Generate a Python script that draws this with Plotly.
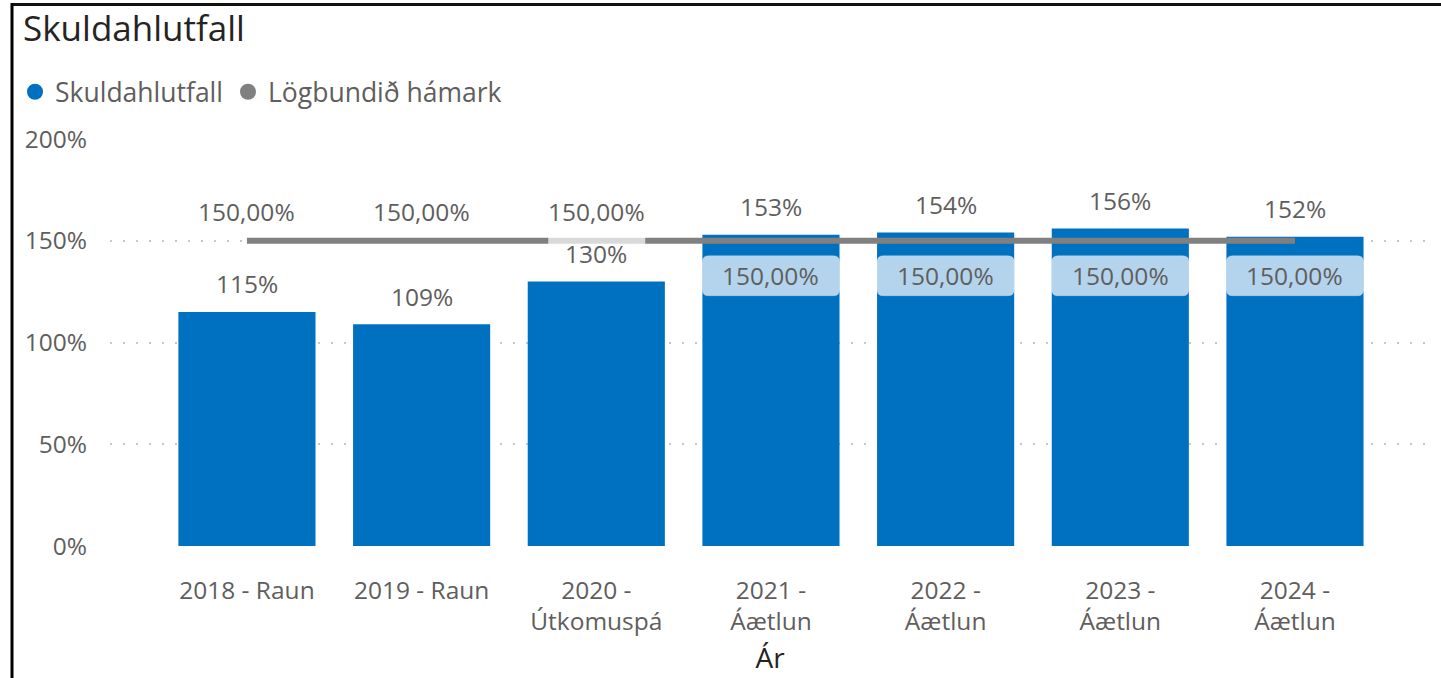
import plotly.graph_objects as go

# ---- data ----
categories = ["2018 - Raun", "2019 - Raun", "2020 -<br>Útkomuspá", "2021 -<br>Áætlun",
              "2022 -<br>Áætlun", "2023 -<br>Áætlun", "2024 -<br>Áætlun"]
skuldahlutfall = [115, 109, 130, 153, 154, 156, 152]
hamark = [150, 150, 150, 150, 150, 150, 150]
y_ticks = [0, 50, 100, 150, 200]
y_tick_labels = ["0%", "50%", "100%", "150%", "200%"]

BAR_COLOR = "#0070C0"
LINE_COLOR = "#808080"
TEXT_COLOR = "#605E5C"
FONT = "Segoe UI, Open Sans, sans-serif"

W, H = 1441, 678
L, R, T, B = 110, 11, 139, 132
plot_w = W - L - R
plot_h = H - T - B
X_MIN, X_MAX = -0.784, 6.773
Y_MIN, Y_MAX = 0, 200
px_per_x = plot_w / (X_MAX - X_MIN)
px_per_y = plot_h / (Y_MAX - Y_MIN)

idx = list(range(len(categories)))
BAR_W = 0.785

fig = go.Figure()
fig.add_trace(go.Bar(x=idx, y=skuldahlutfall, width=BAR_W, marker=dict(color=BAR_COLOR, line=dict(width=0)),
                     name="Skuldahlutfall", showlegend=False, hoverinfo="skip"))
fig.add_trace(go.Scatter(x=idx, y=hamark, mode="lines", line=dict(color=LINE_COLOR, width=6),
                         name="Lögbundið hámark", showlegend=False, hoverinfo="skip"))
# legend entries with circle markers
fig.add_trace(go.Scatter(x=[None], y=[None], mode="markers", name="Skuldahlutfall",
                         marker=dict(symbol="circle", size=17, color=BAR_COLOR)))
fig.add_trace(go.Scatter(x=[None], y=[None], mode="markers", name="Lögbundið hámark",
                         marker=dict(symbol="circle", size=17, color=LINE_COLOR)))


def rounded_rect_path(x0, x1, y0, y1, r_px):
    rx = r_px / px_per_x
    ry = r_px / px_per_y
    return (f"M {x0 + rx},{y0} L {x1 - rx},{y0} Q {x1},{y0} {x1},{y0 + ry} "
            f"L {x1},{y1 - ry} Q {x1},{y1} {x1 - rx},{y1} L {x0 + rx},{y1} "
            f"Q {x0},{y1} {x0},{y1 - ry} L {x0},{y0 + ry} Q {x0},{y0} {x0 + rx},{y0} Z")


LABEL_SIZE = 24.5
annotations = []
shapes = []
for i, (b, h) in enumerate(zip(skuldahlutfall, hamark)):
    annotations.append(dict(x=i, y=b, xref="x", yref="y", text=f"{round(b)}%", showarrow=False,
                            yshift=28, font=dict(family=FONT, size=LABEL_SIZE, color=TEXT_COLOR)))
    lbl = f"{h:.2f}".replace(".", ",") + "%"
    if b > h:
        cy = h - 35 / px_per_y
        hh = 20 / px_per_y
        shapes.append(dict(type="path", xref="x", yref="y",
                           path=rounded_rect_path(i - BAR_W / 2, i + BAR_W / 2, cy - hh, cy + hh, 6),
                           fillcolor="rgba(255,255,255,0.7)", line=dict(color="rgba(255,255,255,0.25)", width=1),
                           layer="above"))
        annotations.append(dict(x=i, y=cy, xref="x", yref="y", text=lbl, showarrow=False,
                                font=dict(family=FONT, size=LABEL_SIZE, color=TEXT_COLOR)))
    else:
        annotations.append(dict(x=i, y=h, xref="x", yref="y", text=lbl, showarrow=False,
                                yshift=29, font=dict(family=FONT, size=LABEL_SIZE, color=TEXT_COLOR)))
        if b > h - 25:
            shapes.append(dict(type="rect", xref="x", yref="y", x0=i - 0.275, x1=i + 0.28,
                               y0=h - 2, y1=h + 2, fillcolor="rgba(255,255,255,0.7)",
                               line=dict(width=0), layer="above"))


# frame (decorative)
def px_x(p):
    return (p - L) / plot_w


def px_y(p):
    return (H - B - p) / plot_h


shapes.append(dict(type="line", xref="paper", yref="paper", x0=px_x(11), x1=px_x(W + 5),
                   y0=px_y(4.5), y1=px_y(4.5), line=dict(color="#111111", width=3)))
shapes.append(dict(type="line", xref="paper", yref="paper", x0=px_x(12), x1=px_x(12),
                   y0=px_y(3), y1=px_y(H + 5), line=dict(color="#000000", width=3)))

fig.update_layout(
    width=W, height=H,
    margin=dict(l=L, r=R, t=T, b=B, autoexpand=False),
    paper_bgcolor="white", plot_bgcolor="white",
    font=dict(family=FONT, size=24, color=TEXT_COLOR),
    title=dict(text="Skuldahlutfall", x=23 / W, xref="container", xanchor="left",
               y=1 - 29 / H, yref="container", yanchor="middle",
               font=dict(family=FONT, size=35, color="#252423")),
    showlegend=True,
    legend=dict(orientation="h", xref="container", yref="container", x=15 / W, y=1 - 92 / H,
                xanchor="left", yanchor="middle", font=dict(family=FONT, size=26.5, color=TEXT_COLOR),
                itemsizing="trace", itemwidth=30, bgcolor="rgba(0,0,0,0)"),
    annotations=annotations,
    shapes=shapes,
)
fig.update_xaxes(range=[X_MIN, X_MAX], tickmode="array", tickvals=idx, ticktext=categories,
                 showgrid=False, zeroline=False, showline=False, ticks="", ticklabelstandoff=27,
                 tickfont=dict(family=FONT, size=LABEL_SIZE, color=TEXT_COLOR),
                 title=dict(text="Ár", standoff=12, font=dict(family=FONT, size=28, color="#252423")))
fig.update_yaxes(range=[Y_MIN, Y_MAX], tickmode="array", tickvals=y_ticks, ticktext=y_tick_labels,
                 showgrid=True, gridcolor="#C8C8C8", gridwidth=2, griddash="2px,11px",
                 zeroline=False, showline=False, ticks="", ticklabelstandoff=22,
                 tickfont=dict(family=FONT, size=LABEL_SIZE, color=TEXT_COLOR))

fig.write_html("out.html", config={"displayModeBar": False},
               post_script="document.body.style.margin='0';")
